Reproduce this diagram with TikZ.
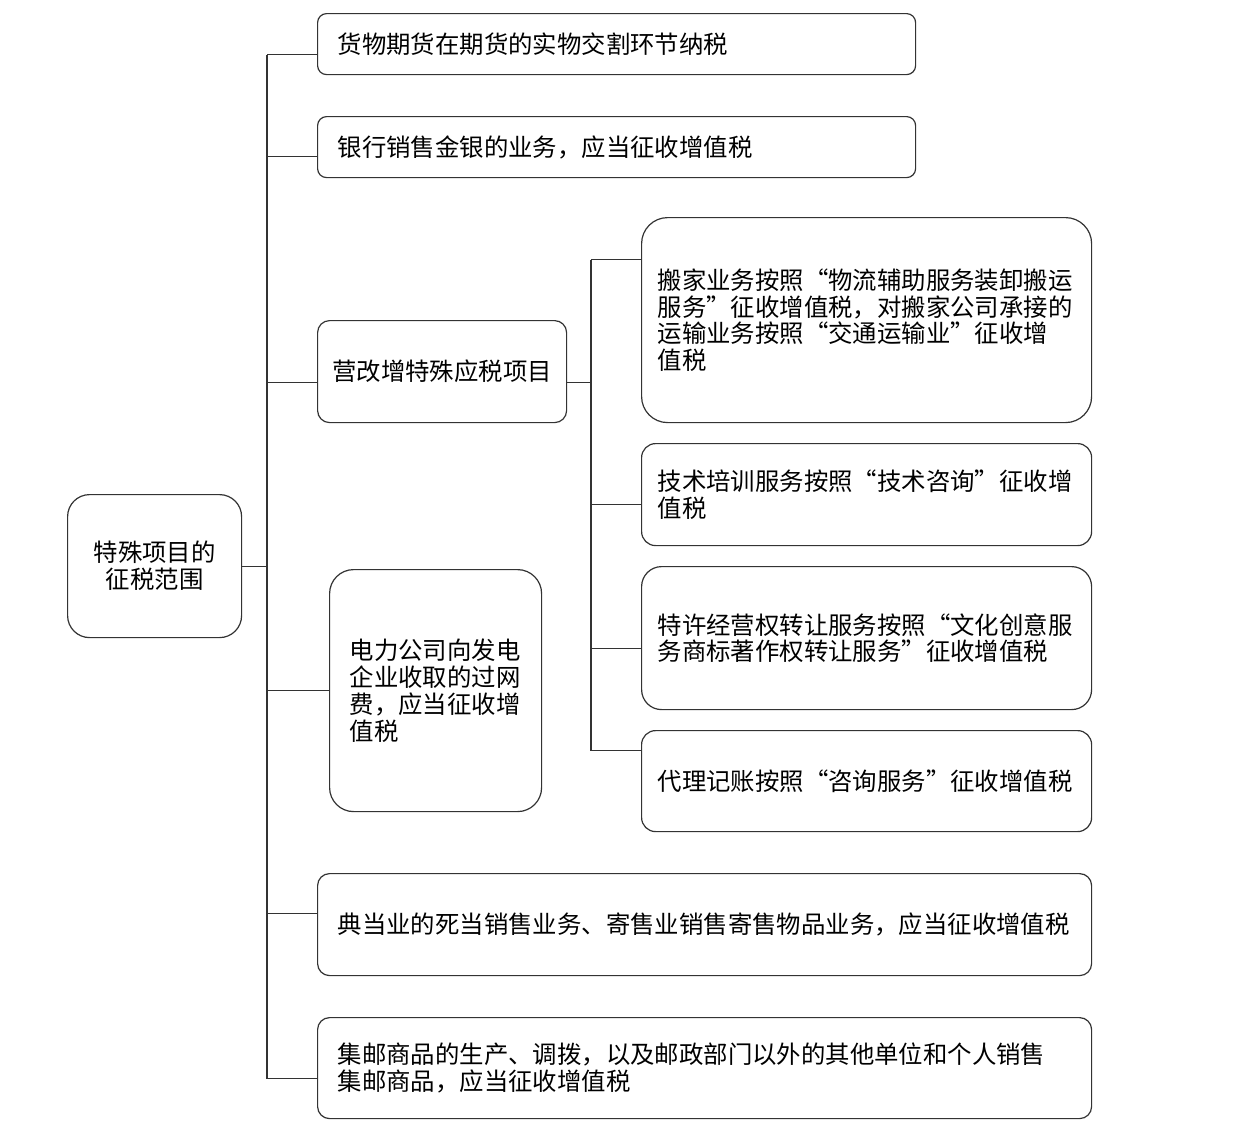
\documentclass[tikz,border=0pt]{standalone}
\usepackage{fontspec}
\setmainfont{Noto Sans CJK SC}
\usepackage{tikz}
\usetikzlibrary{positioning}

\begin{document}
\begin{tikzpicture}[
x=1pt, y=-1pt,
font=\fontsize{24.4pt}{26.8pt}\selectfont,
itembox/.style={draw=black!80, line width=1.2pt, rounded corners=#1, anchor=north west, align=left, inner xsep=20pt, inner ysep=0pt},
itembox/.default=10pt,
subbox/.style={itembox=#1, inner xsep=16pt, text width=418pt, minimum height=101pt},
subbox/.default=14pt,
link/.style={draw=black!80, line width=1.2pt}
]
\useasboundingbox (0,0) rectangle (1260,1143);

% root and first level
\node[itembox=22pt, align=center, minimum width=174pt, minimum height=143pt] (root) at (67,494) {特殊项目的\\征税范围};
\node[itembox=9pt, text width=558pt, minimum height=61pt] (futures) at (317,13) {货物期货在期货的实物交割环节纳税};
\node[itembox=9pt, text width=558pt, minimum height=61pt] (bank) at (317,116) {银行销售金银的业务，应当征收增值税};
\node[itembox=12pt, align=center, inner xsep=0pt, minimum width=249pt, minimum height=102pt] (reform) at (317,320) {营改增特殊应税项目};
\node[itembox=24pt, text width=172pt, minimum height=242pt] (power) at (329,569) {电力公司向发电\\企业收取的过网\\费，应当征收增\\值税};
\node[itembox=12pt, text width=734pt, minimum height=102pt] (pawn) at (317,873) {典当业的死当销售业务、寄售业销售寄售物品业务，应当征收增值税};
\node[itembox=12pt, text width=734pt, minimum height=101pt] (stamp) at (317,1017) {集邮商品的生产、调拨，以及邮政部门以外的其他单位和个人销售\\集邮商品，应当征收增值税};

% second level
\node[subbox=26pt, minimum height=205pt] (moving) at (641,217) {搬家业务按照“物流辅助服务装卸搬运\\服务”征收增值税，对搬家公司承接的\\运输业务按照“交通运输业”征收增\\值税};
\node[subbox, minimum height=102pt] (training) at (641,443) {技术培训服务按照“技术咨询”征收增\\值税};
\node[subbox=20pt, minimum height=143pt] (franchise) at (641,566) {特许经营权转让服务按照“文化创意服\\务商标著作权转让服务”征收增值税};
\node[subbox] (bookkeep) at (641,730) {代理记账按照“咨询服务”征收增值税};

\coordinate (spine) at (267,0);
\coordinate (subspine) at (591,0);

\coordinate (futures-in) at ([yshift=-10.5pt]futures.west);
\coordinate (bank-in) at ([yshift=-9.5pt]bank.west);
\coordinate (reform-in) at ([yshift=-10.5pt]reform.west);
\coordinate (reform-out) at ([yshift=-10.5pt]reform.east);
\coordinate (power-in) at (power.west);
\coordinate (pawn-in) at ([yshift=11pt]pawn.west);
\coordinate (stamp-in) at ([yshift=-10.5pt]stamp.west);
\coordinate (moving-in) at ([yshift=60.5pt]moving.west);
\coordinate (training-in) at ([yshift=-10pt]training.west);
\coordinate (franchise-in) at ([yshift=-10.5pt]franchise.west);
\coordinate (bookkeep-in) at ([yshift=30.5pt]bookkeep.west);

% connectors
\draw[link] (root.east) -- (root.east -| spine);
\draw[link] (futures-in -| spine) -- (stamp-in -| spine);
\draw[link] (futures-in) -- (futures-in -| spine);
\draw[link] (bank-in) -- (bank-in -| spine);
\draw[link] (reform-in) -- (reform-in -| spine);
\draw[link] (power-in) -- (power-in -| spine);
\draw[link] (pawn-in) -- (pawn-in -| spine);
\draw[link] (stamp-in) -- (stamp-in -| spine);

\draw[link] (reform-out) -- (reform-out -| subspine);
\draw[link] (moving-in -| subspine) -- (bookkeep-in -| subspine);
\draw[link] (moving-in) -- (moving-in -| subspine);
\draw[link] (training-in) -- (training-in -| subspine);
\draw[link] (franchise-in) -- (franchise-in -| subspine);
\draw[link] (bookkeep-in) -- (bookkeep-in -| subspine);

\end{tikzpicture}
\end{document}
